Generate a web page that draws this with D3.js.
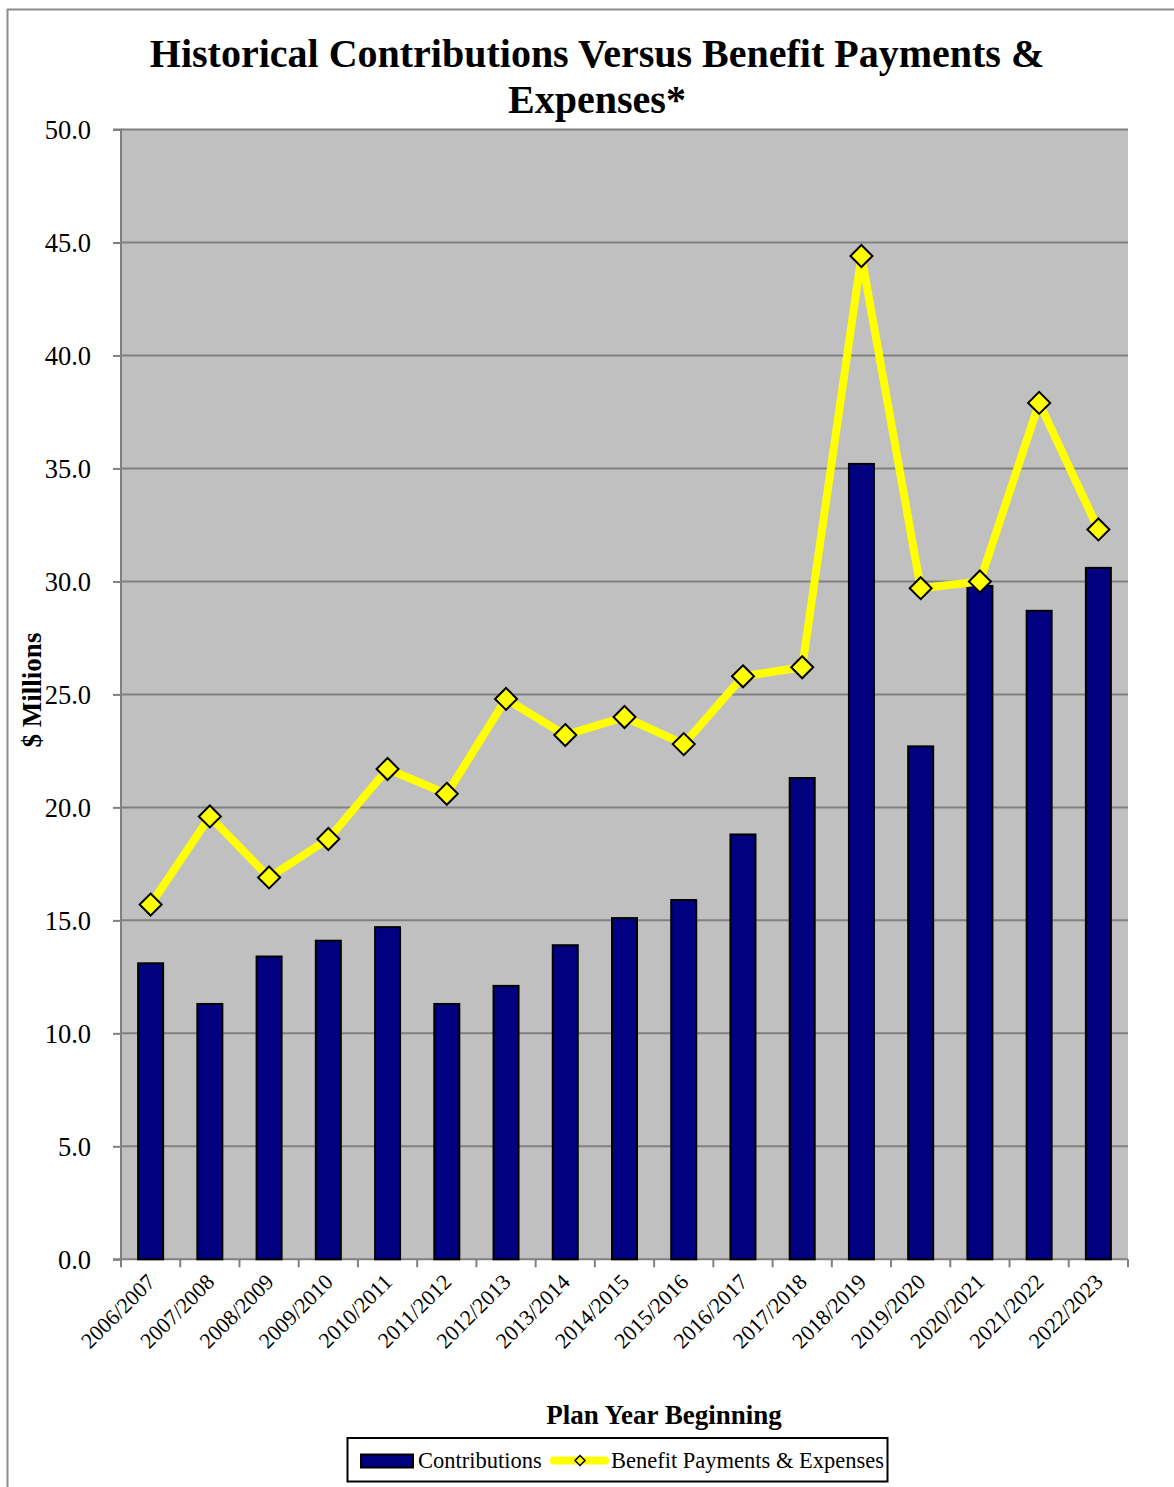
<!DOCTYPE html>
<html>
<head>
<meta charset="utf-8">
<script src="https://cdn.jsdelivr.net/npm/d3@7"></script>
<style>
  html, body { margin: 0; padding: 0; background: #fff; }
  svg { display: block; }
</style>
</head>
<body>
<svg id="chart" width="1174" height="1487"></svg>
<script>
const categories = ["2006/2007","2007/2008","2008/2009","2009/2010","2010/2011","2011/2012","2012/2013","2013/2014","2014/2015","2015/2016","2016/2017","2017/2018","2018/2019","2019/2020","2020/2021","2021/2022","2022/2023"];
const contributions = [13.1, 11.3, 13.4, 14.1, 14.7, 11.3, 12.1, 13.9, 15.1, 15.9, 18.8, 21.3, 35.2, 22.7, 29.8, 28.7, 30.6];
const benefits = [15.7, 19.6, 16.9, 18.6, 21.7, 20.6, 24.8, 23.2, 24.0, 22.8, 25.8, 26.2, 44.4, 29.7, 30.0, 37.9, 32.3];
const yTicks = [0, 5, 10, 15, 20, 25, 30, 35, 40, 45, 50];
const seriesNames = ["Contributions", "Benefit Payments & Expenses"];
const titleLines = ["Historical Contributions Versus Benefit Payments &", "Expenses*"];

const svg = d3.select("#chart");
const serif = "'Liberation Serif', 'Times New Roman', serif";

const L = 121, R = 1128, T = 129.5, B = 1259.3;

// outer border (top and left visible)
svg.append("line").attr("x1", 7).attr("y1", 9.5).attr("x2", 1174).attr("y2", 9.5).attr("stroke", "#8c8c8c").attr("stroke-width", 2);
svg.append("line").attr("x1", 7.5).attr("y1", 9).attr("x2", 7.5).attr("y2", 1487).attr("stroke", "#8c8c8c").attr("stroke-width", 2);

const x = d3.scaleBand().domain(categories).range([L, R]).paddingInner(0).paddingOuter(0);
const y = d3.scaleLinear().domain([0, 50]).range([B, T]);

// plot background
svg.append("rect").attr("x", L).attr("y", T).attr("width", R - L).attr("height", B - T).attr("fill", "#c0c0c0");

// gridlines
svg.append("g").selectAll("line").data(yTicks.filter(d => d > 0)).join("line")
  .attr("x1", L).attr("x2", R).attr("y1", d => y(d)).attr("y2", d => y(d))
  .attr("stroke", "#808080").attr("stroke-width", 2);

// Y axis
const yAxis = d3.axisLeft(y).tickValues(yTicks).tickFormat(d3.format(".1f")).tickSize(8).tickPadding(22);
const gy = svg.append("g").attr("transform", `translate(${L},0)`).call(yAxis);
gy.select(".domain").attr("stroke", "#808080").attr("stroke-width", 2).attr("d", `M-8,${T}H0V${B}`);
gy.selectAll(".tick line").attr("stroke", "#808080").attr("stroke-width", 2);
gy.selectAll(".tick text").attr("font-family", serif).attr("font-size", 26.5).attr("fill", "#000").attr("dy", "0.34em");

// X axis
const boundaries = categories.map(c => x(c)).concat([R]);
const gx = svg.append("g");
gx.append("line").attr("x1", L - 8).attr("x2", R).attr("y1", B).attr("y2", B).attr("stroke", "#808080").attr("stroke-width", 2);
gx.selectAll("line.tk").data(boundaries).join("line").attr("class", "tk")
  .attr("x1", d => d).attr("x2", d => d).attr("y1", B).attr("y2", B + 8)
  .attr("stroke", "#808080").attr("stroke-width", 2);
gx.selectAll("text").data(categories).join("text")
  .attr("transform", d => `translate(${x(d) + x.bandwidth() / 2 + 6},${B + 24}) rotate(-45)`)
  .attr("text-anchor", "end")
  .attr("font-family", serif).attr("font-size", 22).attr("fill", "#000")
  .text(d => d);

// bars
const bw = 25;
svg.append("g").selectAll("rect").data(contributions).join("rect")
  .attr("x", (d, i) => x(categories[i]) + x.bandwidth() / 2 - bw / 2)
  .attr("y", d => y(d))
  .attr("width", bw)
  .attr("height", d => B - y(d))
  .attr("fill", "#000080").attr("stroke", "#000").attr("stroke-width", 2);

// line
const line = d3.line().x((d, i) => x(categories[i]) + x.bandwidth() / 2).y(d => y(d));
svg.append("path").datum(benefits).attr("d", line).attr("fill", "none")
  .attr("stroke", "#ffff00").attr("stroke-width", 8).attr("stroke-linejoin", "round");

const dm = 11;
svg.append("g").selectAll("path").data(benefits).join("path")
  .attr("transform", (d, i) => `translate(${x(categories[i]) + x.bandwidth() / 2},${y(d)})`)
  .attr("d", `M0,${-dm}L${dm},0L0,${dm}L${-dm},0Z`)
  .attr("fill", "#ffff00").attr("stroke", "#000").attr("stroke-width", 2);

// title
svg.append("g").selectAll("text").data(titleLines).join("text")
  .attr("x", 597).attr("y", (d, i) => 67 + i * 46)
  .attr("text-anchor", "middle")
  .attr("font-family", serif).attr("font-weight", "bold").attr("font-size", 40)
  .text(d => d);

// axis titles
svg.append("text").attr("transform", "translate(41,690) rotate(-90)").attr("text-anchor", "middle")
  .attr("font-family", serif).attr("font-weight", "bold").attr("font-size", 27).text("$ Millions");
svg.append("text").attr("x", 664).attr("y", 1424).attr("text-anchor", "middle")
  .attr("font-family", serif).attr("font-weight", "bold").attr("font-size", 27).text("Plan Year Beginning");

// legend
const lg = svg.append("g");
lg.append("rect").attr("x", 347.5).attr("y", 1438).attr("width", 540).attr("height", 43.5)
  .attr("fill", "#fff").attr("stroke", "#000").attr("stroke-width", 2);
lg.append("rect").attr("x", 361).attr("y", 1454.5).attr("width", 52).attr("height", 13)
  .attr("fill", "#000080").attr("stroke", "#000").attr("stroke-width", 2);
lg.append("text").attr("x", 418).attr("y", 1468).attr("font-family", serif).attr("font-size", 22.5).text(seriesNames[0]);
lg.append("line").attr("x1", 554).attr("x2", 605).attr("y1", 1460.5).attr("y2", 1460.5)
  .attr("stroke", "#ffff00").attr("stroke-width", 8).attr("stroke-linecap", "round");
lg.append("path").attr("transform", "translate(580,1460.5)").attr("d", "M0,-5L5,0L0,5L-5,0Z")
  .attr("fill", "#ffff00").attr("stroke", "#000").attr("stroke-width", 1.5);
lg.append("text").attr("x", 611).attr("y", 1468).attr("font-family", serif).attr("font-size", 22.5)
  .attr("textLength", 273).attr("lengthAdjust", "spacingAndGlyphs").text(seriesNames[1]);
</script>
</body>
</html>
